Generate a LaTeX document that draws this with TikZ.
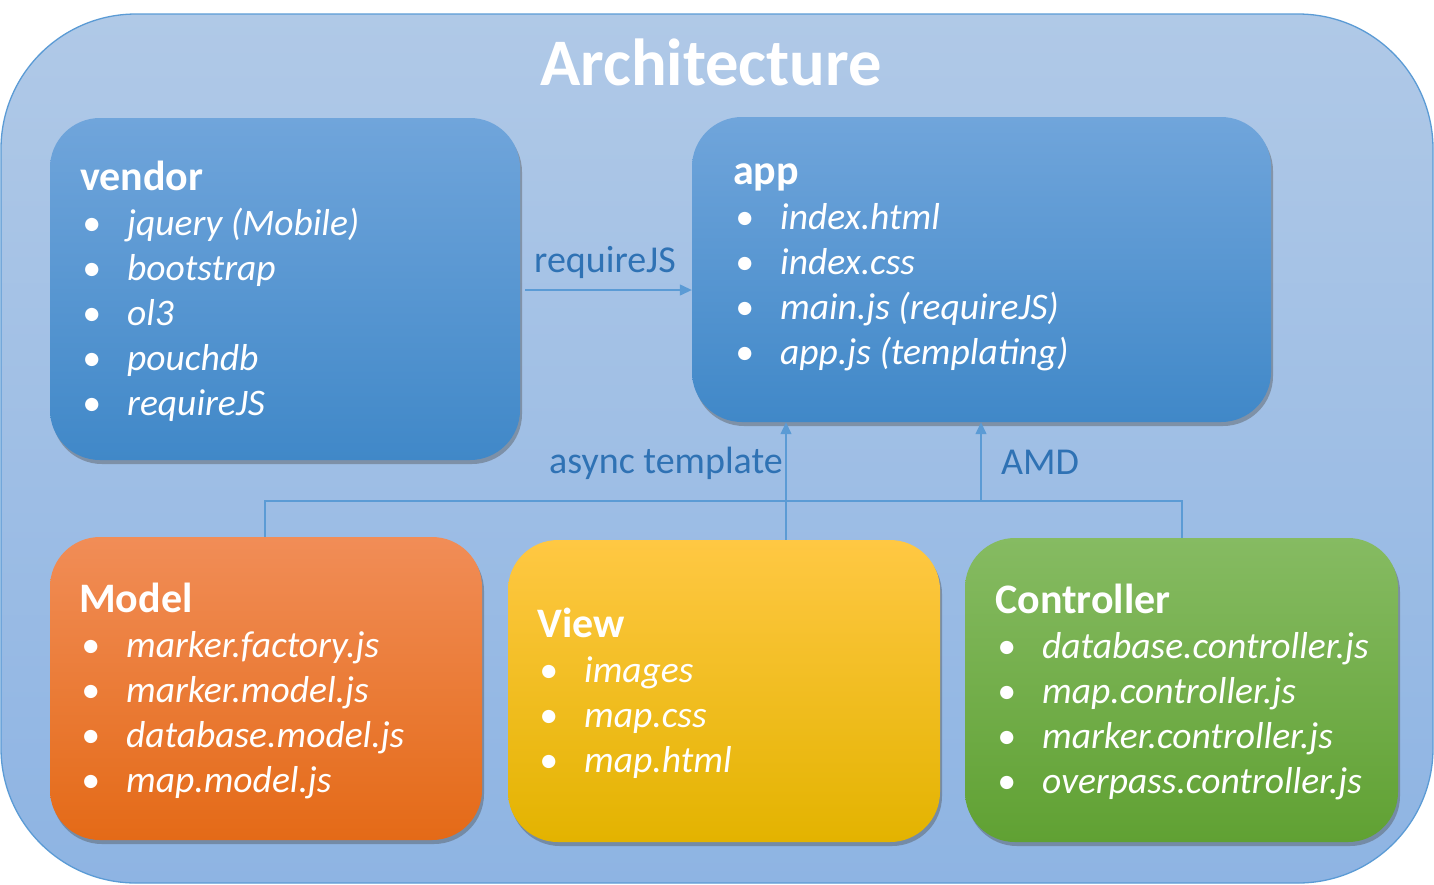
\documentclass[tikz,border=0pt]{standalone}
\usepackage{fontspec}
\setmainfont{Carlito}
\usetikzlibrary{shadows,arrows.meta}
\definecolor{bgtop}{HTML}{B0C9E7}
\definecolor{bgbot}{HTML}{8EB4E3}
\definecolor{bgline}{HTML}{5B9BD5}
\definecolor{bluetop}{HTML}{70A5DB}
\definecolor{bluebot}{HTML}{4088C8}
\definecolor{orgtop}{HTML}{F18D57}
\definecolor{orgbot}{HTML}{E46A17}
\definecolor{yeltop}{HTML}{FFC843}
\definecolor{yelbot}{HTML}{E3B300}
\definecolor{grntop}{HTML}{86BB62}
\definecolor{grnbot}{HTML}{60A133}
\definecolor{lblcol}{HTML}{2F72B4}
\definecolor{conncol}{HTML}{5B9BD5}
\newcommand{\bulmark}{\makebox[47pt][l]{\hspace{2pt}\textbullet}}
\tikzset{
  panel/.style={rounded corners=50pt, inner sep=0pt, draw=none,
    drop shadow={shadow xshift=2pt, shadow yshift=-4pt, opacity=0.4, fill=black!70}},
  bluebox/.style={panel, top color=bluetop, bottom color=bluebot},
  orgbox/.style={panel, top color=orgtop, bottom color=orgbot},
  yelbox/.style={panel, top color=yeltop, bottom color=yelbot},
  grnbox/.style={panel, top color=grntop, bottom color=grnbot},
  head/.style={anchor=base west, inner sep=0pt, text=white, font=\fontsize{42}{48}\selectfont\bfseries},
  item/.style={anchor=base west, inner sep=0pt, text=white, font=\fontsize{37.5}{45}\selectfont\itshape},
  lbl/.style={anchor=base, inner sep=0pt, text=lblcol, font=\fontsize{38}{44}\selectfont},
  conn/.style={draw=conncol, line width=1.3pt},
  tip/.style={-{Triangle[length=12pt,width=11pt]}}
}
\begin{document}
\begin{tikzpicture}[x=1pt,y=1pt]
\useasboundingbox (0,0) rectangle (1434,-884);
% background
\path[top color=bgtop, bottom color=bgbot, draw=bgline, line width=1.3pt, rounded corners=135pt]
  (1,-14) rectangle (1433,-883);
\node[anchor=base, inner sep=0pt, text=white, font=\fontsize{66.5}{72}\selectfont\bfseries] (title) at (711,-85) {Architecture};
% boxes
\node[bluebox, minimum width=470pt, minimum height=342pt] (vendor) at (285,-289) {};
\node[bluebox, minimum width=579pt, minimum height=305pt] (app) at (981.5,-269.5) {};
\node[orgbox, minimum width=432pt, minimum height=303pt] (model) at (266,-688.5) {};
\node[yelbox, minimum width=432pt, minimum height=302pt] (view) at (724,-691) {};
\node[grnbox, minimum width=433pt, minimum height=304pt] (controller) at (1181.5,-690) {};
% vendor text
\node[head] (vendorh) at (80,-190) {vendor};
\foreach \t [count=\i] in {jquery (Mobile), bootstrap, ol3, pouchdb, requireJS}
  \node[item] (vendor\i) at (80,-190-45*\i) {\bulmark\t};
% app text
\node[head] (apph) at (733,-184) {app};
\foreach \t [count=\i] in {index.html, index.css, main.js (requireJS), app.js (templating)}
  \node[item] (app\i) at (733,-184-45*\i) {\bulmark\t};
% model text
\node[head] (modelh) at (79,-612) {Model};
\foreach \t [count=\i] in {marker.factory.js, marker.model.js, database.model.js, map.model.js}
  \node[item] (model\i) at (79,-612-45*\i) {\bulmark\t};
% view text
\node[head] (viewh) at (537,-637) {View};
\foreach \t [count=\i] in {images, map.css, map.html}
  \node[item] (view\i) at (537,-637-45*\i) {\bulmark\t};
% controller text
\node[head] (controllerh) at (995,-613) {Controller};
\foreach \t [count=\i] in {database.controller.js, map.controller.js, marker.controller.js, overpass.controller.js}
  \node[item] (controller\i) at (995,-613-45*\i) {\bulmark\t};
% connectors
\coordinate (xm) at (265,0);
\coordinate (xc) at (1182,0);
\coordinate (xa) at (786,0);
\coordinate (xb) at (981,0);
\coordinate (jy) at (0,-501);
\coordinate (ry) at (0,-290);
\draw[conn, tip] ([xshift=5pt]vendor.east |- ry) -- (app.west |- ry);
\draw[conn] (model.north -| xm) -- (xm |- jy) -- (xc |- jy) -- (controller.north -| xc);
\draw[conn, tip] (view.north -| xa) -- (app.south -| xa);
\draw[conn, tip] (xb |- jy) -- (app.south -| xb);
% labels
\node[lbl] (lreq) at (605,-272) {requireJS};
\node[lbl] (lasync) at (666,-473) {async template};
\node[lbl] (lamd) at (1040,-474) {AMD};
\end{tikzpicture}
\end{document}
